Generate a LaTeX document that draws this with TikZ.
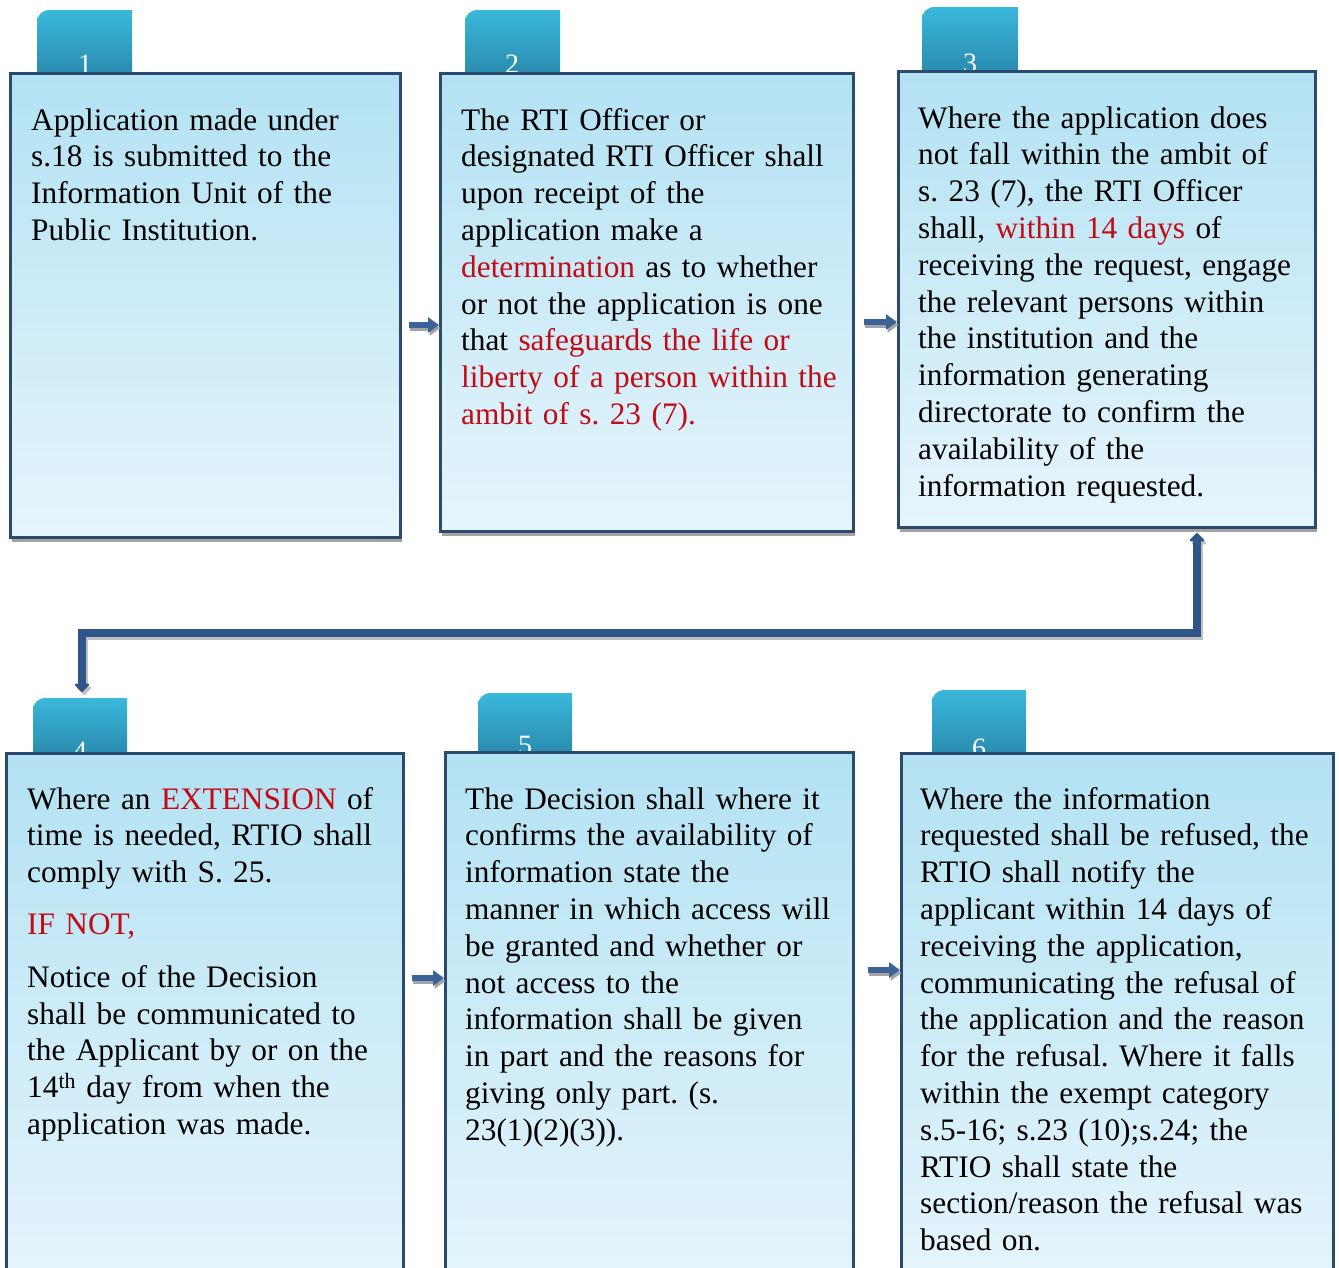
\documentclass[tikz,border=0pt]{standalone}
\usepackage{fontspec}
\setmainfont{Liberation Serif}
\usetikzlibrary{arrows.meta,shadows}
\definecolor{tabtop}{HTML}{3AB8DB}
\definecolor{tabbot}{HTML}{2A8DB0}
\definecolor{boxtop}{HTML}{B3E2F3}
\definecolor{boxbot}{HTML}{E6F5FC}
\definecolor{boxline}{HTML}{2B4A6E}
\definecolor{shadowgray}{HTML}{A3A3A3}
\definecolor{arrowblue}{HTML}{3C6399}
\definecolor{connblue}{HTML}{2F5688}
\definecolor{redtxt}{HTML}{C40A14}
\newcommand{\rd}[1]{\textcolor{redtxt}{#1}}
\frenchspacing
\tikzset{
  boxstyle/.style={rectangle, draw=boxline, line width=2.5pt, top color=boxtop, bottom color=boxbot,
    inner sep=0pt, anchor=north west,
    general shadow={fill=shadowgray, shadow xshift=1.5pt, shadow yshift=-4.5pt}},
  tabstyle/.style={top color=tabtop, bottom color=tabbot, draw=none},
  numstyle/.style={anchor=base, text=white, inner sep=0pt, font=\fontsize{28pt}{28pt}\selectfont},
  txt/.style={anchor=base west, align=left, text width=440pt, inner sep=0pt,
    font=\fontsize{31.3pt}{36.8pt}\selectfont\frenchspacing},
  smallarrow/.style={draw=arrowblue, line width=5.5pt, -{Triangle[width=15pt,length=11pt]},
    preaction={draw=shadowgray, line width=5.5pt, -{Triangle[width=15pt,length=11pt]},
      transform canvas={shift={(1.5pt,-3pt)}}}},
  bigconn/.style={draw=connblue, line width=8.5pt, {Triangle[width=17pt,length=9pt,round]}-{Triangle[width=17pt,length=9pt,round]},
    preaction={draw=shadowgray!70, line width=8.5pt, transform canvas={shift={(2pt,-3pt)}}}}
}
\begin{document}
\begin{tikzpicture}[x=1pt,y=-1pt]
\useasboundingbox (0,0) rectangle (1339,1267);
\clip (0,0) rectangle (1339,1267);
% tabs
\path[tabstyle] (37,72) -- (37,23) .. controls (37,15) and (42,10) .. (50,10) -- (132,10) -- (132,72) -- cycle;
\path[tabstyle] (465,72) -- (465,23) .. controls (465,15) and (470,10) .. (478,10) -- (560,10) -- (560,72) -- cycle;
\path[tabstyle] (922,70) -- (922,20) .. controls (922,12) and (927,7) .. (935,7) -- (1018,7) -- (1018,70) -- cycle;
\path[tabstyle] (33,752) -- (33,711) .. controls (33,703) and (38,698) .. (46,698) -- (127,698) -- (127,752) -- cycle;
\path[tabstyle] (478,751) -- (478,706) .. controls (478,698) and (483,693) .. (491,693) -- (572,693) -- (572,751) -- cycle;
\path[tabstyle] (932,752) -- (932,703) .. controls (932,695) and (937,690) .. (945,690) -- (1026,690) -- (1026,752) -- cycle;
% numbers
\node[numstyle] (n1) at (85,73) {1};
\node[numstyle] (n2) at (512,73) {2};
\node[numstyle] (n3) at (970,72) {3};
\node[numstyle] (n4) at (80,760) {4};
\node[numstyle] (n5) at (525,754) {5};
\node[numstyle] (n6) at (979,757) {6};
% boxes
\node[boxstyle, minimum width=390pt, minimum height=464pt] (b1) at (9,72) {};
\node[boxstyle, minimum width=413pt, minimum height=458pt] (b2) at (439,72) {};
\node[boxstyle, minimum width=417pt, minimum height=456pt] (b3) at (897,70) {};
\node[boxstyle, minimum width=397pt, minimum height=540pt] (b4) at (5,752) {};
\node[boxstyle, minimum width=408pt, minimum height=540pt] (b5) at (444,751) {};
\node[boxstyle, minimum width=432pt, minimum height=540pt] (b6) at (900,752) {};
% texts
\node[txt] (t1) at (31,130) {Application made under\\ s.18 is submitted to the\\ Information Unit of the\\ Public Institution.};
\node[txt] (t2) at (461,130) {The RTI Officer or\\ designated RTI Officer shall\\ upon receipt of the\\ application make a\\ \rd{determination} as to whether\\ or not the application is one\\ that \rd{safeguards the life or}\\ \rd{liberty of a person within the}\\ \rd{ambit of s. 23 (7).}};
\node[txt] (t3) at (918,128) {Where the application does\\ not fall within the ambit of\\ s. 23 (7), the RTI Officer\\ shall, \rd{within 14 days} of\\ receiving the request, engage\\ the relevant persons within\\ the institution and the\\ information generating\\ directorate to confirm the\\ availability of the\\ information requested.};
\node[txt] (t4) at (27,809) {Where an \rd{EXTENSION} of\\ time is needed, RTIO shall\\ comply with S. 25.\\[15pt] \rd{IF NOT,}\\[16pt] Notice of the Decision\\ shall be communicated to\\ the Applicant by or on the\\ 14\textsuperscript{th} day from when the\\ application was made.};
\node[txt] (t5) at (465,809) {The Decision shall where it\\ confirms the availability of\\ information state the\\ manner in which access will\\ be granted and whether or\\ not access to the\\ information shall be given\\ in part and the reasons for\\ giving only part. (s.\\ 23(1)(2)(3)).};
\node[txt] (t6) at (920,809) {Where the information\\ requested shall be refused, the\\ RTIO shall notify the\\ applicant within 14 days of\\ receiving the application,\\ communicating the refusal of\\ the application and the reason\\ for the refusal. Where it falls\\ within the exempt category\\ s.5-16; s.23 (10);s.24; the\\ RTIO shall state the\\ section/reason the refusal was\\ based on.};
% small arrows
\coordinate (a1) at (0,325);
\coordinate (a2) at (0,322);
\coordinate (a4) at (0,978);
\coordinate (a5) at (0,970);
\draw[smallarrow] ([xshift=7pt]b1.east |- a1) -- (b2.west |- a1);
\draw[smallarrow] ([xshift=9pt]b2.east |- a2) -- (b3.west |- a2);
\draw[smallarrow] ([xshift=7pt]b4.east |- a4) -- (b5.west |- a4);
\draw[smallarrow] ([xshift=13pt]b5.east |- a5) -- (b6.west |- a5);
% big connector
\coordinate (c3) at (1197,533);
\coordinate (c4) at (82,692);
\coordinate (cm) at (640,633);
\draw[bigconn] (c3) |- (cm) -| (c4);
\end{tikzpicture}
\end{document}
